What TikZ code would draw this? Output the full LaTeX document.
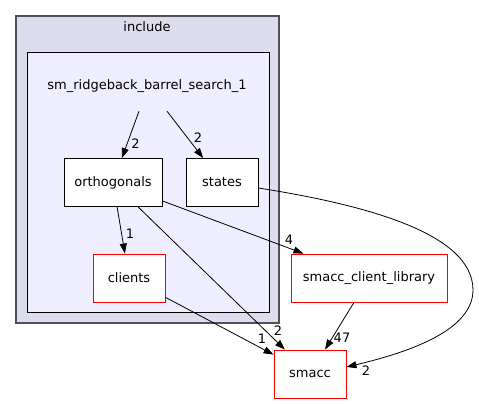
\documentclass[tikz,border=0pt]{standalone}
\usepackage{fontspec}
\setmainfont{DejaVu Sans}
\usetikzlibrary{arrows.meta,calc}
\definecolor{outerfill}{HTML}{DDDDEE}
\definecolor{outerdraw}{HTML}{505058}
\definecolor{innerfill}{HTML}{EEEEFF}
\tikzset{
  dirbox/.style={draw=black, fill=white, line width=0.9pt, minimum height=48pt, inner sep=0pt, font=\fontsize{13}{15}\selectfont},
  extbox/.style={draw=red, fill=white, line width=0.9pt, minimum height=48pt, inner sep=0pt, font=\fontsize{13}{15}\selectfont},
  dep/.style={draw=black, line width=0.8pt, -{Triangle[length=10pt,width=7pt]}},
  elabel/.style={font=\fontsize{13}{15}\selectfont, inner sep=0pt},
}
\begin{document}
\begin{tikzpicture}[x=1pt,y=-1pt]
\useasboundingbox (0,0) rectangle (479,404);
% clusters
\draw[fill=outerfill, draw=outerdraw, line width=1.8pt] (16,16) rectangle (279,323);
\node[elabel] (inclbl) at (147,27) {include};
\draw[fill=innerfill, draw=black, line width=0.9pt] (27,52) rectangle (269,312);
\node[elabel, minimum height=50pt] (lbl) at (147,86) {sm\_ridgeback\_barrel\_search\_1};
% nodes
\node[dirbox, minimum width=98pt] (orth) at (113,182.5) {orthogonals};
\node[dirbox, minimum width=72pt] (states) at (222,182.5) {states};
\node[extbox, minimum width=72pt] (clients) at (129,278) {clients};
\node[extbox, minimum width=156pt] (scl) at (369,278) {smacc\_client\_library};
\node[extbox, minimum width=72pt] (smacc) at (310,374) {smacc};
% edges
\coordinate (l1) at ([xshift=-8pt]lbl.south);
\coordinate (l2) at ([xshift=20pt]lbl.south);
\draw[dep] (l1) -- (orth);
\draw[dep] (l2) -- (states);
\draw[dep] (orth) -- (clients);
\draw[dep] (orth) -- (smacc);
\draw[dep] (orth) -- (scl);
\draw[dep] (clients) -- (smacc);
\draw[dep] (scl) -- (smacc);
\draw[dep] ([yshift=-5.5pt]states.east) .. controls (360,204) and (473,232) .. (473,290)
   .. controls (473,330) and (410,352) .. ([yshift=7pt]smacc.east);
% edge labels
\node[elabel] at (135.5,144) {2};
\node[elabel] at (198,137.5) {2};
\node[elabel] at (130,233.5) {1};
\node[elabel] at (289,240) {4};
\node[elabel] at (278,331) {2};
\node[elabel] at (262,338.5) {1};
\node[elabel] at (342,337.5) {47};
\node[elabel] at (366,371) {2};
\end{tikzpicture}
\end{document}
